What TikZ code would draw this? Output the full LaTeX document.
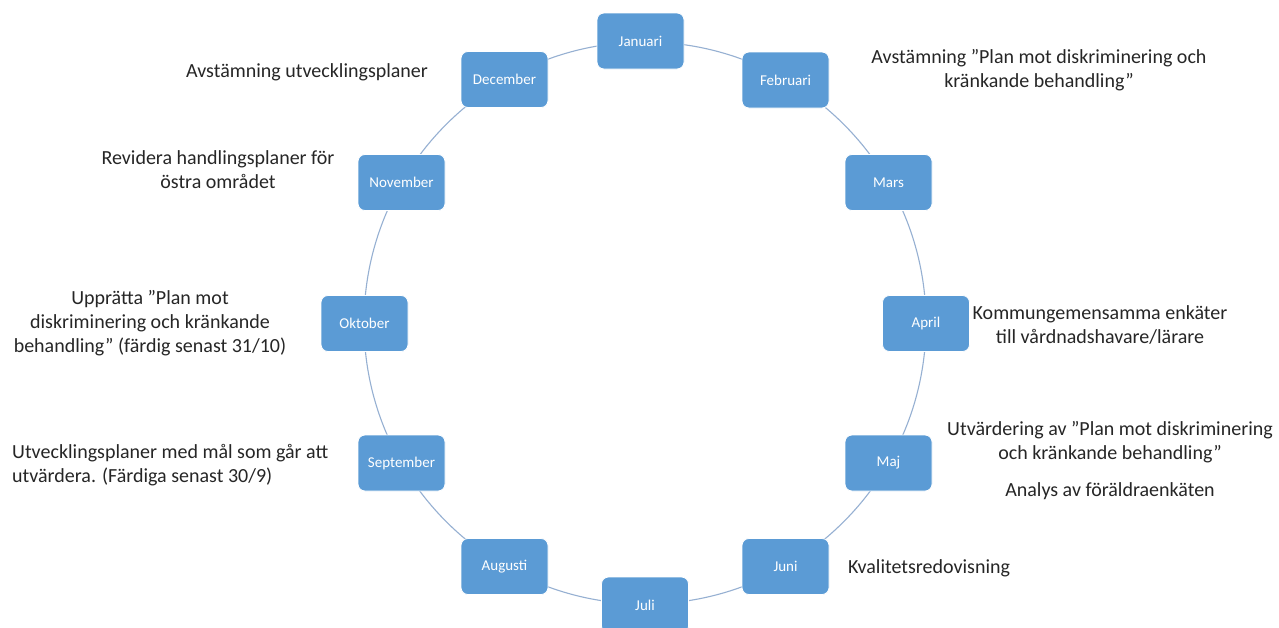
\documentclass[tikz,border=0pt]{standalone}
\usepackage{fontspec}
\setmainfont{Carlito}
\definecolor{boxblue}{HTML}{5B9BD5}
\definecolor{ringcol}{RGB}{150,176,210}
\definecolor{txtcol}{HTML}{262626}
\begin{document}
\begin{tikzpicture}[x=1pt,y=-1pt,
  month/.style={draw=white,line width=0.8pt,fill=boxblue,rounded corners=7pt,
    minimum width=87pt,minimum height=56pt,inner sep=0pt,text=white,
    font=\fontsize{15}{18}\selectfont},
  lbl/.style={text=txtcol,font=\fontsize{20}{24}\selectfont,align=center,inner sep=0pt},
  lbll/.style={lbl,align=left,anchor=west},
  ring/.style={draw=ringcol,line width=1.1pt}]
\useasboundingbox (0,0) rectangle (1279,627);
\fill[white] (0,0) rectangle (1279,627);
\coordinate (c) at (645,323);
\draw[ring] (c) circle[radius=281];
\node[month] (jan) at (640.5,41) {Januari};
\node[month] (feb) at (785.5,80) {Februari};
\node[month] (mar) at (888.5,182.5) {Mars};
\node[month] (apr) at (926,323.5) {April};
\node[month] (maj) at (888.5,463) {Maj};
\node[month] (jun) at (785.5,566.5) {Juni};
\node[month] (jul) at (645,605) {Juli};
\node[month] (aug) at (504.5,566.5) {Augusti};
\node[month] (sep) at (401.5,463) {September};
\node[month] (okt) at (364.5,323.5) {Oktober};
\node[month] (nov) at (401.5,182.5) {November};
\node[month] (dec) at (504.5,79.5) {December};
\node[lbl] (tdec) at (307,72) {Avstämning utvecklingsplaner};
\node[lbl] (tfeb) at (1039,70) {Avstämning ”Plan mot diskriminering och\\kränkande behandling”};
\node[lbl] (tnov) at (218,170) {Revidera handlingsplaner för\\östra området};
\node[lbl] (tokt) at (150,323.5) {Upprätta ”Plan mot\\diskriminering och kränkande\\behandling” (färdig senast 31/10)};
\node[lbl] (tapr) at (1100,325) {Kommungemensamma enkäter\\till vårdnadshavare/lärare};
\node[lbl] (tmaj) at (1110,442.5) {Utvärdering av ”Plan mot diskriminering\\och kränkande behandling”};
\node[lbl] (tmaj2) at (1110,491) {Analys av föräldraenkäten};
\node[lbll] (tsep) at (12,465.5) {Utvecklingsplaner med mål som går att\\utvärdera. (Färdiga senast 30/9)};
\node[lbll] (tjun) at (848,568) {Kvalitetsredovisning};
\end{tikzpicture}
\end{document}
